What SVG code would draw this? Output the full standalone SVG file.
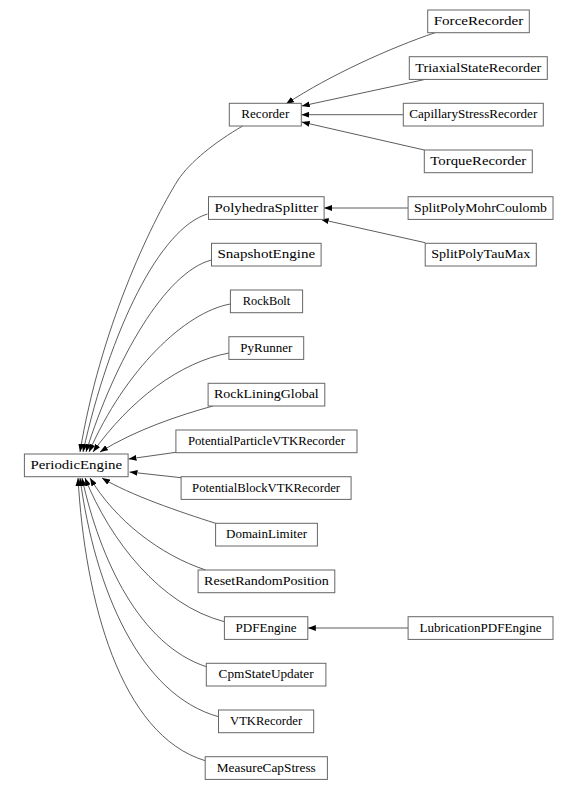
<svg xmlns="http://www.w3.org/2000/svg" width="578" height="790" viewBox="0 0 578 790">
<style>
.n rect{fill:#fff;stroke:#666;stroke-width:1}
.n text{font-family:"Liberation Serif","Times New Roman",serif;font-size:11.5px;fill:#000;text-anchor:middle}
.e path{fill:none;stroke:#333;stroke-width:0.8;marker-end:url(#ah)}
</style>
<defs>
<marker id="ah" viewBox="0 0 8 6" refX="8" refY="3" markerWidth="8" markerHeight="6" markerUnits="userSpaceOnUse" orient="auto">
<path d="M0,0 L8,3 L0,6 z" fill="#000"/>
</marker>
</defs>
<rect width="578" height="790" fill="#fff"/>
<g class="e" id="edges">
<path d="M242.7,126 C215,142 190,162 178,180 C150,225 100,330 80,452"/>
<path d="M207.5,214 C160,228 110,330 83,452"/>
<path d="M211.5,260 C165,272 115,360 86,452"/>
<path d="M230.4,304 C185,312 125,370 89,452"/>
<path d="M229,353 C180,362 130,400 93,452"/>
<path d="M213,406 C180,415 135,430 100,452"/>
<path d="M176,452.3 L128.5,459"/>
<path d="M181,477.7 L129.5,472"/>
<path d="M215.6,523.3 C180,512 130,495 102,478"/>
<path d="M205.7,570 C160,555 115,520 90,478"/>
<path d="M224.4,621.7 C160,605 110,540 85,478"/>
<path d="M206.3,666.7 C140,645 100,560 82,478"/>
<path d="M218.5,716.7 C140,695 95,590 80,478"/>
<path d="M205.2,760.7 C120,735 85,600 78,478"/>
<path d="M435,32.7 C390,48 330,75 286,104"/>
<path d="M425.7,79.3 L301.7,106"/>
<path d="M403.3,114.7 L301.3,114.7"/>
<path d="M424.3,150 L301.7,122"/>
<path d="M408,208 L324,208"/>
<path d="M425.2,242.7 L320.7,219.3"/>
<path d="M408,628 L307.8,628"/>
</g>
<g class="n" id="PeriodicEngine"><rect x="24.4" y="454" width="103.7" height="22.7"/><text x="76.3" y="469" textLength="91.7" lengthAdjust="spacingAndGlyphs">PeriodicEngine</text></g>
<g class="n" id="Recorder"><rect x="229.3" y="103.3" width="72" height="22.7"/><text x="265.3" y="118.3" textLength="48" lengthAdjust="spacingAndGlyphs">Recorder</text></g>
<g class="n" id="ForceRecorder"><rect x="427.7" y="10" width="101.6" height="22.7"/><text x="478.5" y="25" textLength="89.6" lengthAdjust="spacingAndGlyphs">ForceRecorder</text></g>
<g class="n" id="TriaxialStateRecorder"><rect x="409.3" y="56.7" width="138" height="22.7"/><text x="478.3" y="71.7" textLength="126" lengthAdjust="spacingAndGlyphs">TriaxialStateRecorder</text></g>
<g class="n" id="CapillaryStressRecorder"><rect x="403.3" y="103.3" width="140" height="22.7"/><text x="473.3" y="118.3" textLength="128" lengthAdjust="spacingAndGlyphs">CapillaryStressRecorder</text></g>
<g class="n" id="TorqueRecorder"><rect x="424.3" y="150" width="108" height="22.7"/><text x="478.3" y="165" textLength="96" lengthAdjust="spacingAndGlyphs">TorqueRecorder</text></g>
<g class="n" id="PolyhedraSplitter"><rect x="208.5" y="196.7" width="115.6" height="22.7"/><text x="266.3" y="211.7" textLength="103.6" lengthAdjust="spacingAndGlyphs">PolyhedraSplitter</text></g>
<g class="n" id="SplitPolyMohrCoulomb"><rect x="408.1" y="196.7" width="144.9" height="22.7"/><text x="480.5" y="211.7" textLength="132.9" lengthAdjust="spacingAndGlyphs">SplitPolyMohrCoulomb</text></g>
<g class="n" id="SnapshotEngine"><rect x="211.5" y="243.3" width="109.6" height="22.7"/><text x="266.3" y="258.3" textLength="97.6" lengthAdjust="spacingAndGlyphs">SnapshotEngine</text></g>
<g class="n" id="SplitPolyTauMax"><rect x="425.2" y="243.3" width="111.1" height="22.7"/><text x="480.7" y="258.3" textLength="99.1" lengthAdjust="spacingAndGlyphs">SplitPolyTauMax</text></g>
<g class="n" id="RockBolt"><rect x="230.4" y="290" width="72.2" height="22.7"/><text x="266.5" y="305" textLength="47.4" lengthAdjust="spacingAndGlyphs">RockBolt</text></g>
<g class="n" id="PyRunner"><rect x="228.9" y="336.7" width="74.8" height="22.7"/><text x="266.3" y="351.7" textLength="52" lengthAdjust="spacingAndGlyphs">PyRunner</text></g>
<g class="n" id="RockLiningGlobal"><rect x="208.1" y="383.3" width="116.7" height="22.7"/><text x="266.4" y="398.3" textLength="104.7" lengthAdjust="spacingAndGlyphs">RockLiningGlobal</text></g>
<g class="n" id="PotentialParticleVTKRecorder"><rect x="175.9" y="430" width="181.1" height="22.7"/><text x="266.4" y="445" textLength="157" lengthAdjust="spacingAndGlyphs">PotentialParticleVTKRecorder</text></g>
<g class="n" id="PotentialBlockVTKRecorder"><rect x="181.1" y="476.7" width="170" height="22.7"/><text x="266.1" y="491.7" textLength="148" lengthAdjust="spacingAndGlyphs">PotentialBlockVTKRecorder</text></g>
<g class="n" id="DomainLimiter"><rect x="215.6" y="523.3" width="101.8" height="22.7"/><text x="266.5" y="538.3" textLength="81" lengthAdjust="spacingAndGlyphs">DomainLimiter</text></g>
<g class="n" id="ResetRandomPosition"><rect x="198.1" y="570" width="136.7" height="22.7"/><text x="266.4" y="585" textLength="124.7" lengthAdjust="spacingAndGlyphs">ResetRandomPosition</text></g>
<g class="n" id="PDFEngine"><rect x="224.4" y="616.7" width="83.4" height="22.7"/><text x="266.1" y="631.7" textLength="61" lengthAdjust="spacingAndGlyphs">PDFEngine</text></g>
<g class="n" id="LubricationPDFEngine"><rect x="408.1" y="616.7" width="144.9" height="22.7"/><text x="480.5" y="631.7" textLength="122" lengthAdjust="spacingAndGlyphs">LubricationPDFEngine</text></g>
<g class="n" id="CpmStateUpdater"><rect x="206.3" y="663.3" width="119.6" height="22.7"/><text x="266.1" y="678.3" textLength="95" lengthAdjust="spacingAndGlyphs">CpmStateUpdater</text></g>
<g class="n" id="VTKRecorder"><rect x="218.5" y="710" width="95.2" height="22.7"/><text x="266.1" y="725" textLength="72" lengthAdjust="spacingAndGlyphs">VTKRecorder</text></g>
<g class="n" id="MeasureCapStress"><rect x="205.2" y="756.7" width="122.2" height="22.7"/><text x="266.3" y="771.7" textLength="99" lengthAdjust="spacingAndGlyphs">MeasureCapStress</text></g>
</svg>
